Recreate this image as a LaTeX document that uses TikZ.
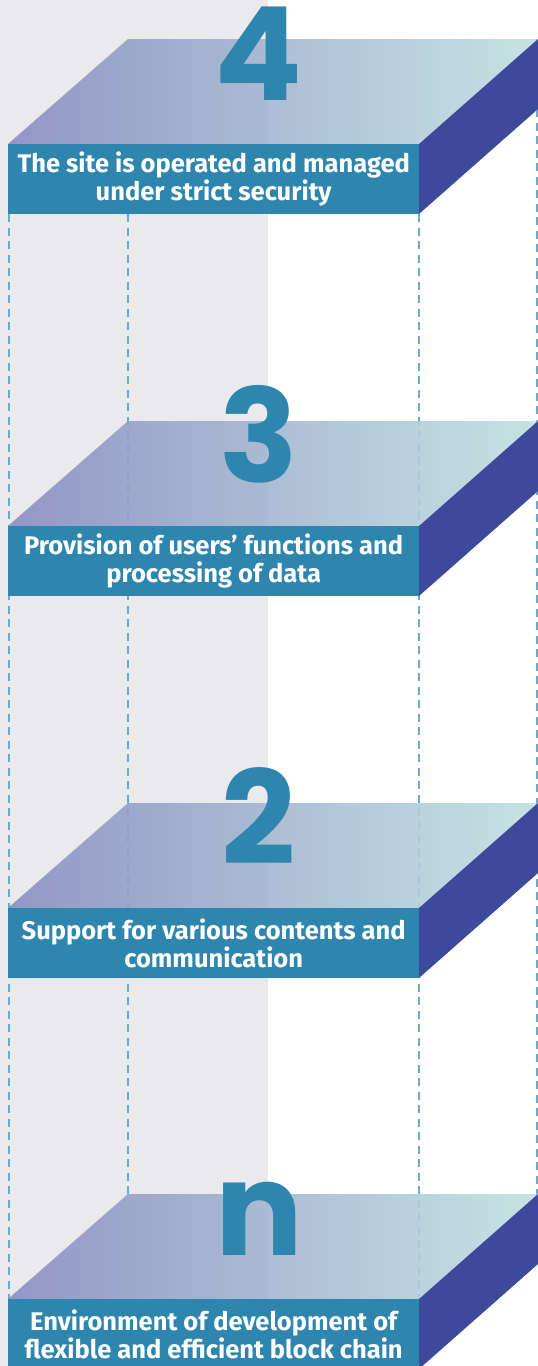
\documentclass[tikz,border=0pt]{standalone}
\usepackage{fontspec}
\setmainfont{Fira Sans}
\newfontfamily\digitfont{Poppins}
\definecolor{bggray}{HTML}{EAEAEC}
\definecolor{faceblue}{HTML}{2E86AE}
\definecolor{sideblue}{HTML}{3D4A9B}
\definecolor{topleft}{HTML}{8A8EC2}
\definecolor{topright}{HTML}{BEE0E0}
\definecolor{dashcol}{HTML}{6AAACB}
\tikzset{
  frontface/.style={fill=faceblue, text=white, inner sep=0pt, minimum width=411pt, minimum height=70pt,
    anchor=north west, align=center, font=\fontsize{25.5}{28.5}\selectfont\bfseries},
  topface/.style={left color=topleft, right color=topright, fill opacity=0.9},
  sideface/.style={fill=sideblue},
  digit/.style={text=faceblue, inner sep=0pt, anchor=base, font=\digitfont\fontsize{130}{130}\selectfont\bfseries},
  dashline/.style={draw=dashcol, line width=1.5pt, dash pattern=on 8pt off 5.5pt}
}
\newcommand{\myblock}[4]{%
  \shade[topface] (8,#1) -- (128,#1-105) -- (538,#1-105) -- (419,#1) -- cycle;
  \node[digit] (d#2) at (259,#1-44) {#3};
  \fill[sideface] (419,#1) -- (538,#1-105) -- (538,#1-35) -- (419,#1+70) -- cycle;
  \node[frontface] (f#2) at (8,#1) {#4};
}
\begin{document}
\begin{tikzpicture}[x=1pt,y=-1pt]
\useasboundingbox (0,0) rectangle (538,1366);
\fill[bggray] (0,0) rectangle (268,1366);
% dashed guide lines
\coordinate (a1) at (9,214);   \coordinate (a2) at (9,1299);
\coordinate (b1) at (128,214); \coordinate (b2) at (128,1194);
\coordinate (c1) at (419,214); \coordinate (c2) at (419,1299);
\coordinate (e1) at (537,109); \coordinate (e2) at (537,1194);
\draw[dashline] (a1) -- (a2);
\draw[dashline] (b1) -- (b2);
\draw[dashline] (c1) -- (c2);
\draw[dashline] (e1) -- (e2);
\myblock{144}{4}{4}{The site is operated and managed\\under strict security}
\myblock{526}{3}{3}{Provision of users’ functions and\\processing of data}
\myblock{908}{2}{2}{Support for various contents and\\communication}
\myblock{1299}{n}{n}{Environment of development of\\flexible and efficient block chain}
\end{tikzpicture}
\end{document}
